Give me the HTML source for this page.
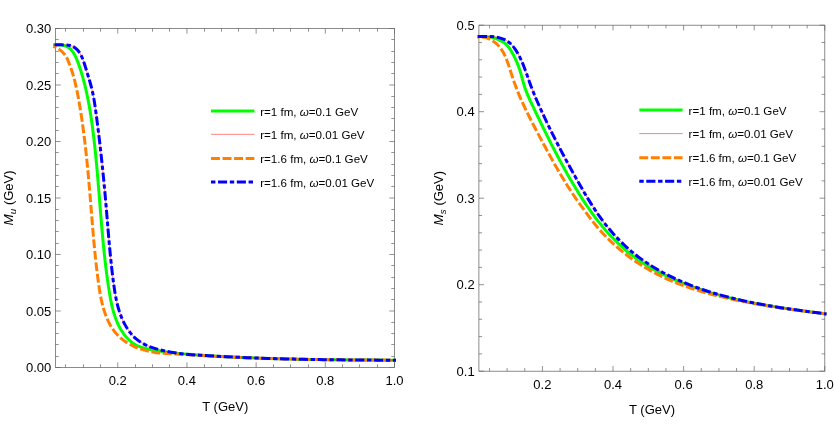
<!DOCTYPE html>
<html><head><meta charset="utf-8"><title>M vs T</title>
<style>html,body{margin:0;padding:0;background:#fff;overflow:hidden}svg{display:block;will-change:transform}</style>
</head><body>
<svg width="834" height="436" viewBox="0 0 834 436">
<style>
text{font-family:"Liberation Sans",sans-serif;fill:#000}
.t{font-size:13px}
.l{font-size:11.6px}
.i{font-style:italic}
.a{font-size:13px}
</style>
<rect width="834" height="436" fill="#fff"/>
<g>
<rect x="55.5" y="28.5" width="339.0" height="339.0" fill="none" stroke="#666" stroke-width="0.75"/>
<path d="M117.77,367.5v-5.2M117.77,28.5v5.2M186.95,367.5v-5.2M186.95,28.5v5.2M256.13,367.5v-5.2M256.13,28.5v5.2M325.32,367.5v-5.2M325.32,28.5v5.2M394.50,367.5v-5.2M394.50,28.5v5.2M55.5,367.50h5.2M394.5,367.50h-5.2M55.5,311.00h5.2M394.5,311.00h-5.2M55.5,254.50h5.2M394.5,254.50h-5.2M55.5,198.00h5.2M394.5,198.00h-5.2M55.5,141.50h5.2M394.5,141.50h-5.2M55.5,85.00h5.2M394.5,85.00h-5.2M55.5,28.50h5.2M394.5,28.50h-5.2" stroke="#666" stroke-width="0.7" fill="none"/>
<path d="M65.50,367.5v-3.2M65.50,28.5v3.2M83.50,367.5v-3.2M83.50,28.5v3.2M100.50,367.5v-3.2M100.50,28.5v3.2M135.50,367.5v-3.2M135.50,28.5v3.2M152.50,367.5v-3.2M152.50,28.5v3.2M169.50,367.5v-3.2M169.50,28.5v3.2M204.50,367.5v-3.2M204.50,28.5v3.2M221.50,367.5v-3.2M221.50,28.5v3.2M238.50,367.5v-3.2M238.50,28.5v3.2M273.50,367.5v-3.2M273.50,28.5v3.2M290.50,367.5v-3.2M290.50,28.5v3.2M308.50,367.5v-3.2M308.50,28.5v3.2M342.50,367.5v-3.2M342.50,28.5v3.2M359.50,367.5v-3.2M359.50,28.5v3.2M377.50,367.5v-3.2M377.50,28.5v3.2M55.5,356.50h3.2M394.5,356.50h-3.2M55.5,344.50h3.2M394.5,344.50h-3.2M55.5,333.50h3.2M394.5,333.50h-3.2M55.5,322.50h3.2M394.5,322.50h-3.2M55.5,299.50h3.2M394.5,299.50h-3.2M55.5,288.50h3.2M394.5,288.50h-3.2M55.5,277.50h3.2M394.5,277.50h-3.2M55.5,265.50h3.2M394.5,265.50h-3.2M55.5,243.50h3.2M394.5,243.50h-3.2M55.5,231.50h3.2M394.5,231.50h-3.2M55.5,220.50h3.2M394.5,220.50h-3.2M55.5,209.50h3.2M394.5,209.50h-3.2M55.5,186.50h3.2M394.5,186.50h-3.2M55.5,175.50h3.2M394.5,175.50h-3.2M55.5,164.50h3.2M394.5,164.50h-3.2M55.5,152.50h3.2M394.5,152.50h-3.2M55.5,130.50h3.2M394.5,130.50h-3.2M55.5,118.50h3.2M394.5,118.50h-3.2M55.5,107.50h3.2M394.5,107.50h-3.2M55.5,96.50h3.2M394.5,96.50h-3.2M55.5,73.50h3.2M394.5,73.50h-3.2M55.5,62.50h3.2M394.5,62.50h-3.2M55.5,51.50h3.2M394.5,51.50h-3.2M55.5,39.50h3.2M394.5,39.50h-3.2" stroke="#666" stroke-width="0.7" fill="none"/>
<text x="117.8" y="385.1" text-anchor="middle" class="t">0.2</text>
<text x="186.9" y="385.1" text-anchor="middle" class="t">0.4</text>
<text x="256.1" y="385.1" text-anchor="middle" class="t">0.6</text>
<text x="325.3" y="385.1" text-anchor="middle" class="t">0.8</text>
<text x="394.5" y="385.1" text-anchor="middle" class="t">1.0</text>
<text x="51.3" y="372.1" text-anchor="end" class="t">0.00</text>
<text x="51.3" y="315.6" text-anchor="end" class="t">0.05</text>
<text x="51.3" y="259.1" text-anchor="end" class="t">0.10</text>
<text x="51.3" y="202.6" text-anchor="end" class="t">0.15</text>
<text x="51.3" y="146.1" text-anchor="end" class="t">0.20</text>
<text x="51.3" y="89.6" text-anchor="end" class="t">0.25</text>
<text x="51.3" y="33.1" text-anchor="end" class="t">0.30</text>
<path d="M53.20,44.80C56.16,44.80 59.02,44.92 61.76,45.10C64.46,45.29 67.48,46.88 69.55,48.33C71.62,49.78 73.36,52.62 74.73,55.01C76.12,57.46 77.15,60.26 78.18,62.95C79.20,65.59 80.08,68.31 80.93,71.01C81.77,73.72 82.56,76.44 83.30,79.17C84.05,81.91 84.75,84.66 85.41,87.42C86.06,90.18 86.68,92.96 87.26,95.74C87.84,98.52 88.39,101.31 88.90,104.11C89.41,106.91 89.89,109.72 90.34,112.53C90.80,115.35 91.22,118.17 91.63,120.99C92.03,123.81 92.41,126.64 92.77,129.47C93.14,132.30 93.48,135.13 93.82,137.96C94.15,140.78 94.47,143.61 94.77,146.45C95.08,149.27 95.37,152.10 95.65,154.94C95.94,157.77 96.21,160.60 96.47,163.43C96.74,166.26 96.99,169.09 97.24,171.92C97.49,174.75 97.73,177.58 97.97,180.41C98.21,183.24 98.44,186.06 98.67,188.89C98.90,191.72 99.13,194.55 99.35,197.38C99.58,200.21 99.80,203.03 100.03,205.86C100.25,208.69 100.48,211.51 100.71,214.34C100.94,217.16 101.17,219.99 101.41,222.81C101.64,225.64 101.88,228.46 102.13,231.28C102.38,234.11 102.64,236.93 102.90,239.75C103.17,242.58 103.44,245.40 103.72,248.22C104.01,251.05 104.30,253.87 104.61,256.69C104.92,259.52 105.24,262.34 105.58,265.17C105.92,267.99 106.27,270.82 106.64,273.64C107.01,276.47 107.40,279.30 107.80,282.13C108.21,284.96 108.63,287.79 109.08,290.62C109.54,293.45 110.00,296.28 110.53,299.10C111.07,301.90 111.65,304.71 112.32,307.48C113.00,310.22 113.77,312.97 114.66,315.65C115.54,318.31 116.57,320.96 117.73,323.51C118.89,326.06 120.25,328.59 121.74,330.95C123.25,333.35 124.98,335.75 126.88,337.82C128.76,339.87 130.92,341.96 133.23,343.44C135.52,344.91 138.18,346.20 140.79,347.07C143.46,347.96 146.32,348.57 149.11,349.16C151.91,349.75 154.74,350.24 157.57,350.71C160.39,351.17 163.21,351.60 166.04,351.98C168.86,352.36 171.69,352.70 174.51,353.02C177.34,353.33 180.17,353.61 182.99,353.87C185.82,354.12 188.65,354.36 191.48,354.57C194.31,354.79 197.14,354.99 199.97,355.18C202.80,355.38 205.63,355.56 208.47,355.73C211.30,355.91 214.13,356.08 216.97,356.24C219.80,356.40 222.64,356.55 225.48,356.70C228.31,356.85 231.15,356.99 233.99,357.12C236.83,357.26 239.67,357.38 242.50,357.51C245.34,357.63 248.18,357.74 251.02,357.85C253.87,357.96 256.71,358.07 259.55,358.17C262.39,358.27 265.23,358.36 268.07,358.45C270.92,358.54 273.76,358.62 276.60,358.70C279.44,358.78 282.29,358.85 285.13,358.92C287.98,358.99 290.82,359.06 293.66,359.12C296.51,359.18 299.35,359.24 302.20,359.29C305.04,359.34 307.89,359.39 310.73,359.44C313.57,359.49 316.42,359.53 319.26,359.57C322.11,359.61 324.95,359.65 327.80,359.68C330.64,359.72 333.48,359.75 336.33,359.78C339.17,359.81 342.02,359.84 344.86,359.86C347.70,359.89 350.55,359.91 353.39,359.94C356.23,359.96 359.08,359.98 361.92,360.00C364.76,360.02 367.60,360.04 370.44,360.06C373.28,360.07 376.12,360.09 378.97,360.11C381.81,360.12 384.65,360.14 387.48,360.15C390.32,360.17 393.16,360.18 396.00,360.20" stroke="#00ff00" stroke-width="3.0" fill="none"/>
<path d="M53.20,44.80C56.03,44.80 58.85,44.82 61.66,44.86C64.54,44.89 67.62,45.17 70.28,45.59C72.82,45.99 75.57,48.08 77.38,49.84C79.25,51.68 80.72,54.59 81.91,57.15C83.10,59.70 83.96,62.50 84.86,65.22C85.74,67.90 86.48,70.64 87.31,73.35C88.14,76.06 89.04,78.75 89.82,81.47C90.60,84.19 91.38,86.92 92.02,89.67C92.66,92.43 93.22,95.21 93.73,98.00C94.23,100.79 94.67,103.60 95.09,106.41C95.51,109.22 95.88,112.04 96.26,114.85C96.63,117.67 97.00,120.49 97.36,123.31C97.72,126.13 98.07,128.95 98.42,131.76C98.76,134.58 99.10,137.40 99.44,140.22C99.77,143.04 100.10,145.86 100.42,148.68C100.74,151.50 101.05,154.32 101.36,157.14C101.67,159.96 101.97,162.78 102.26,165.60C102.56,168.42 102.85,171.24 103.13,174.06C103.41,176.88 103.69,179.70 103.96,182.53C104.23,185.35 104.50,188.17 104.76,190.99C105.02,193.82 105.27,196.64 105.52,199.47C105.77,202.29 106.01,205.11 106.25,207.94C106.49,210.77 106.73,213.59 106.96,216.42C107.20,219.24 107.43,222.07 107.66,224.90C107.90,227.72 108.13,230.55 108.37,233.38C108.62,236.20 108.86,239.03 109.11,241.86C109.36,244.68 109.62,247.51 109.89,250.34C110.15,253.16 110.43,255.99 110.72,258.81C111.01,261.63 111.31,264.46 111.62,267.28C111.94,270.10 112.27,272.93 112.62,275.75C112.96,278.57 113.32,281.39 113.71,284.20C114.10,287.02 114.50,289.84 114.97,292.64C115.44,295.43 115.95,298.22 116.56,300.99C117.16,303.74 117.85,306.49 118.65,309.18C119.45,311.88 120.38,314.56 121.43,317.16C122.49,319.78 123.73,322.38 125.09,324.85C126.47,327.36 128.05,329.84 129.78,332.10C131.50,334.34 133.46,336.56 135.57,338.41C137.65,340.23 140.03,341.92 142.45,343.27C144.88,344.64 147.53,345.80 150.16,346.80C152.79,347.80 155.52,348.66 158.25,349.41C160.97,350.15 163.73,350.82 166.50,351.37C169.27,351.93 172.06,352.42 174.85,352.83C177.66,353.23 180.48,353.58 183.29,353.88C186.12,354.17 188.95,354.42 191.79,354.64C194.63,354.86 197.47,355.05 200.31,355.23C203.15,355.42 205.99,355.59 208.83,355.75C211.67,355.92 214.51,356.08 217.35,356.24C220.19,356.39 223.02,356.54 225.86,356.69C228.70,356.83 231.54,356.97 234.37,357.10C237.21,357.23 240.04,357.36 242.88,357.48C245.71,357.60 248.55,357.71 251.38,357.82C254.22,357.93 257.05,358.03 259.88,358.13C262.72,358.23 265.55,358.33 268.38,358.42C271.22,358.51 274.05,358.59 276.88,358.67C279.71,358.76 282.55,358.83 285.38,358.90C288.21,358.98 291.04,359.04 293.88,359.11C296.71,359.17 299.54,359.23 302.37,359.29C305.21,359.35 308.04,359.40 310.87,359.45C313.71,359.50 316.54,359.55 319.37,359.59C322.20,359.63 325.04,359.67 327.87,359.71C330.71,359.75 333.54,359.78 336.38,359.82C339.21,359.85 342.05,359.88 344.88,359.90C347.72,359.93 350.55,359.96 353.39,359.98C356.23,360.00 359.07,360.02 361.90,360.04C364.74,360.06 367.58,360.08 370.42,360.09C373.26,360.11 376.10,360.12 378.94,360.14C381.78,360.15 384.63,360.16 387.47,360.17C390.31,360.18 393.16,360.19 396.00,360.20" stroke="#ff0000" stroke-width="0.5" fill="none"/>
<path d="M53.20,46.30C55.98,47.25 58.49,48.68 60.61,50.32C62.73,51.96 64.77,54.34 66.17,56.67C67.59,59.01 68.56,61.82 69.58,64.46C70.61,67.09 71.53,69.77 72.37,72.47C73.21,75.16 73.98,77.88 74.67,80.61C75.37,83.35 76.01,86.11 76.60,88.87C77.19,91.64 77.72,94.42 78.24,97.20C78.75,99.98 79.23,102.77 79.70,105.56C80.17,108.36 80.62,111.15 81.05,113.95C81.48,116.74 81.89,119.54 82.29,122.34C82.69,125.14 83.07,127.94 83.44,130.75C83.81,133.55 84.16,136.36 84.51,139.17C84.85,141.98 85.18,144.79 85.49,147.60C85.81,150.41 86.12,153.22 86.41,156.03C86.71,158.85 87.00,161.66 87.27,164.48C87.55,167.30 87.82,170.11 88.08,172.93C88.34,175.75 88.60,178.57 88.85,181.39C89.10,184.21 89.34,187.03 89.58,189.85C89.82,192.67 90.06,195.50 90.29,198.32C90.52,201.14 90.75,203.96 90.98,206.79C91.21,209.61 91.44,212.43 91.67,215.26C91.90,218.08 92.12,220.90 92.36,223.73C92.59,226.55 92.83,229.37 93.07,232.19C93.31,235.01 93.55,237.83 93.81,240.65C94.06,243.47 94.32,246.29 94.60,249.11C94.87,251.93 95.15,254.74 95.44,257.56C95.74,260.37 96.04,263.18 96.36,266.00C96.68,268.80 97.01,271.61 97.36,274.42C97.71,277.23 98.08,280.03 98.47,282.83C98.86,285.63 99.25,288.43 99.71,291.22C100.17,294.00 100.67,296.79 101.25,299.55C101.83,302.31 102.51,305.06 103.28,307.78C104.05,310.50 104.95,313.22 105.97,315.86C106.99,318.52 108.18,321.17 109.51,323.68C110.83,326.17 112.36,328.64 114.05,330.87C115.71,333.08 117.66,335.21 119.69,337.07C121.73,338.94 124.02,340.68 126.35,342.19C128.70,343.71 131.23,345.10 133.78,346.27C136.36,347.45 139.06,348.52 141.77,349.38C144.49,350.23 147.29,351.01 150.09,351.57C152.86,352.11 155.69,352.59 158.51,352.89C161.30,353.19 164.11,353.39 166.91,353.56C169.72,353.73 172.53,353.82 175.33,353.97C178.15,354.11 180.97,354.26 183.78,354.42C186.61,354.58 189.44,354.77 192.26,354.94C195.09,355.12 197.92,355.31 200.75,355.48C203.59,355.65 206.42,355.82 209.25,355.98C212.08,356.14 214.91,356.30 217.74,356.45C220.57,356.60 223.40,356.74 226.23,356.87C229.06,357.01 231.89,357.14 234.72,357.26C237.55,357.38 240.38,357.50 243.21,357.61C246.03,357.73 248.86,357.83 251.69,357.93C254.52,358.04 257.35,358.13 260.18,358.22C263.01,358.31 265.83,358.40 268.66,358.48C271.49,358.56 274.32,358.64 277.15,358.72C279.97,358.79 282.80,358.86 285.63,358.92C288.46,358.99 291.29,359.05 294.12,359.11C296.94,359.16 299.77,359.22 302.60,359.27C305.43,359.32 308.26,359.37 311.08,359.41C313.91,359.46 316.74,359.50 319.57,359.54C322.40,359.58 325.23,359.61 328.06,359.65C330.88,359.68 333.71,359.72 336.54,359.75C339.37,359.78 342.20,359.80 345.03,359.83C347.86,359.86 350.69,359.88 353.52,359.90C356.35,359.93 359.18,359.95 362.01,359.97C364.84,359.99 367.68,360.01 370.51,360.03C373.34,360.05 376.17,360.07 379.00,360.09C381.83,360.11 384.67,360.13 387.50,360.14C390.33,360.16 393.17,360.18 396.00,360.20" stroke="#ff8000" stroke-width="3.0" fill="none" stroke-dasharray="8.9 2.65" stroke-dashoffset="5.6"/>
<path d="M53.20,44.80C56.03,44.80 58.85,44.82 61.66,44.86C64.54,44.89 67.62,45.17 70.28,45.59C72.82,45.99 75.57,48.08 77.38,49.84C79.25,51.68 80.72,54.59 81.91,57.15C83.10,59.70 83.96,62.50 84.86,65.22C85.74,67.90 86.48,70.64 87.31,73.35C88.14,76.06 89.04,78.75 89.82,81.47C90.60,84.19 91.38,86.92 92.02,89.67C92.66,92.43 93.22,95.21 93.73,98.00C94.23,100.79 94.67,103.60 95.09,106.41C95.51,109.22 95.88,112.04 96.26,114.85C96.63,117.67 97.00,120.49 97.36,123.31C97.72,126.13 98.07,128.95 98.42,131.76C98.76,134.58 99.10,137.40 99.44,140.22C99.77,143.04 100.10,145.86 100.42,148.68C100.74,151.50 101.05,154.32 101.36,157.14C101.67,159.96 101.97,162.78 102.26,165.60C102.56,168.42 102.85,171.24 103.13,174.06C103.41,176.88 103.69,179.70 103.96,182.53C104.23,185.35 104.50,188.17 104.76,190.99C105.02,193.82 105.27,196.64 105.52,199.47C105.77,202.29 106.01,205.11 106.25,207.94C106.49,210.77 106.73,213.59 106.96,216.42C107.20,219.24 107.43,222.07 107.66,224.90C107.90,227.72 108.13,230.55 108.37,233.38C108.62,236.20 108.86,239.03 109.11,241.86C109.36,244.68 109.62,247.51 109.89,250.34C110.15,253.16 110.43,255.99 110.72,258.81C111.01,261.63 111.31,264.46 111.62,267.28C111.94,270.10 112.27,272.93 112.62,275.75C112.96,278.57 113.32,281.39 113.71,284.20C114.10,287.02 114.50,289.84 114.97,292.64C115.44,295.43 115.95,298.22 116.56,300.99C117.16,303.74 117.85,306.49 118.65,309.18C119.45,311.88 120.38,314.56 121.43,317.16C122.49,319.78 123.73,322.38 125.09,324.85C126.47,327.36 128.05,329.84 129.78,332.10C131.50,334.34 133.46,336.56 135.57,338.41C137.65,340.23 140.03,341.92 142.45,343.27C144.88,344.64 147.53,345.80 150.16,346.80C152.79,347.80 155.52,348.66 158.25,349.41C160.97,350.15 163.73,350.82 166.50,351.37C169.27,351.93 172.06,352.42 174.85,352.83C177.66,353.23 180.48,353.58 183.29,353.88C186.12,354.17 188.95,354.42 191.79,354.64C194.63,354.86 197.47,355.05 200.31,355.23C203.15,355.42 205.99,355.59 208.83,355.75C211.67,355.92 214.51,356.08 217.35,356.24C220.19,356.39 223.02,356.54 225.86,356.69C228.70,356.83 231.54,356.97 234.37,357.10C237.21,357.23 240.04,357.36 242.88,357.48C245.71,357.60 248.55,357.71 251.38,357.82C254.22,357.93 257.05,358.03 259.88,358.13C262.72,358.23 265.55,358.33 268.38,358.42C271.22,358.51 274.05,358.59 276.88,358.67C279.71,358.76 282.55,358.83 285.38,358.90C288.21,358.98 291.04,359.04 293.88,359.11C296.71,359.17 299.54,359.23 302.37,359.29C305.21,359.35 308.04,359.40 310.87,359.45C313.71,359.50 316.54,359.55 319.37,359.59C322.20,359.63 325.04,359.67 327.87,359.71C330.71,359.75 333.54,359.78 336.38,359.82C339.21,359.85 342.05,359.88 344.88,359.90C347.72,359.93 350.55,359.96 353.39,359.98C356.23,360.00 359.07,360.02 361.90,360.04C364.74,360.06 367.58,360.08 370.42,360.09C373.26,360.11 376.10,360.12 378.94,360.14C381.78,360.15 384.63,360.16 387.47,360.17C390.31,360.18 393.16,360.19 396.00,360.20" stroke="#0000ff" stroke-width="3.0" fill="none" stroke-dasharray="4.4 2.6 9.1 2.7" stroke-dashoffset="5.6"/>
<text x="225.3" y="410.8" text-anchor="middle" class="a">T (GeV)</text>
<text transform="translate(13.0,198) rotate(-90)" text-anchor="middle" class="a"><tspan class="i" font-size="13.6px">M</tspan><tspan class="i" font-size="9.9px" dy="2.6">u</tspan><tspan dy="-2.6"> (GeV)</tspan></text>
<path d="M211,111.0H254.4" stroke="#00ff00" stroke-width="3.0"/>
<path d="M211,134.3H254.4" stroke="#ff0000" stroke-width="0.5"/>
<path d="M211,158.6H254.4" stroke="#ff8000" stroke-width="3.0" stroke-dasharray="8.9 2.65"/>
<path d="M211,182.1H254.4" stroke="#0000ff" stroke-width="3.0" stroke-dasharray="4.4 2.6 9.1 2.7"/>
<text x="260.2" y="115.6" class="l">r=1 fm, <tspan class="i">ω</tspan>=0.1 GeV</text>
<text x="260.2" y="138.9" class="l">r=1 fm, <tspan class="i">ω</tspan>=0.01 GeV</text>
<text x="260.2" y="163.2" class="l">r=1.6 fm, <tspan class="i">ω</tspan>=0.1 GeV</text>
<text x="260.2" y="186.7" class="l">r=1.6 fm, <tspan class="i">ω</tspan>=0.01 GeV</text>
</g>
<g>
<rect x="478.9" y="25.2" width="345.9" height="346.0" fill="none" stroke="#666" stroke-width="0.75"/>
<path d="M542.43,371.2v-5.2M542.43,25.2v5.2M613.02,371.2v-5.2M613.02,25.2v5.2M683.62,371.2v-5.2M683.62,25.2v5.2M754.21,371.2v-5.2M754.21,25.2v5.2M824.80,371.2v-5.2M824.80,25.2v5.2M478.9,371.20h5.2M824.8,371.20h-5.2M478.9,284.70h5.2M824.8,284.70h-5.2M478.9,198.20h5.2M824.8,198.20h-5.2M478.9,111.70h5.2M824.8,111.70h-5.2M478.9,25.20h5.2M824.8,25.20h-5.2" stroke="#666" stroke-width="0.7" fill="none"/>
<path d="M489.49,371.2v-3.2M489.49,25.2v3.2M507.14,371.2v-3.2M507.14,25.2v3.2M524.78,371.2v-3.2M524.78,25.2v3.2M560.08,371.2v-3.2M560.08,25.2v3.2M577.73,371.2v-3.2M577.73,25.2v3.2M595.38,371.2v-3.2M595.38,25.2v3.2M630.67,371.2v-3.2M630.67,25.2v3.2M648.32,371.2v-3.2M648.32,25.2v3.2M665.97,371.2v-3.2M665.97,25.2v3.2M701.26,371.2v-3.2M701.26,25.2v3.2M718.91,371.2v-3.2M718.91,25.2v3.2M736.56,371.2v-3.2M736.56,25.2v3.2M771.86,371.2v-3.2M771.86,25.2v3.2M789.50,371.2v-3.2M789.50,25.2v3.2M807.15,371.2v-3.2M807.15,25.2v3.2M478.9,353.90h3.2M824.8,353.90h-3.2M478.9,336.60h3.2M824.8,336.60h-3.2M478.9,319.30h3.2M824.8,319.30h-3.2M478.9,302.00h3.2M824.8,302.00h-3.2M478.9,267.40h3.2M824.8,267.40h-3.2M478.9,250.10h3.2M824.8,250.10h-3.2M478.9,232.80h3.2M824.8,232.80h-3.2M478.9,215.50h3.2M824.8,215.50h-3.2M478.9,180.90h3.2M824.8,180.90h-3.2M478.9,163.60h3.2M824.8,163.60h-3.2M478.9,146.30h3.2M824.8,146.30h-3.2M478.9,129.00h3.2M824.8,129.00h-3.2M478.9,94.40h3.2M824.8,94.40h-3.2M478.9,77.10h3.2M824.8,77.10h-3.2M478.9,59.80h3.2M824.8,59.80h-3.2M478.9,42.50h3.2M824.8,42.50h-3.2" stroke="#666" stroke-width="0.7" fill="none"/>
<text x="542.4" y="388.8" text-anchor="middle" class="t">0.2</text>
<text x="613.0" y="388.8" text-anchor="middle" class="t">0.4</text>
<text x="683.6" y="388.8" text-anchor="middle" class="t">0.6</text>
<text x="754.2" y="388.8" text-anchor="middle" class="t">0.8</text>
<text x="824.8" y="388.8" text-anchor="middle" class="t">1.0</text>
<text x="474.7" y="375.8" text-anchor="end" class="t">0.1</text>
<text x="474.7" y="289.3" text-anchor="end" class="t">0.2</text>
<text x="474.7" y="202.8" text-anchor="end" class="t">0.3</text>
<text x="474.7" y="116.3" text-anchor="end" class="t">0.4</text>
<text x="474.7" y="29.8" text-anchor="end" class="t">0.5</text>
<path d="M477.00,36.50C479.35,36.50 481.69,36.52 484.02,36.55C486.36,36.58 488.72,36.97 491.02,37.35C493.31,37.72 495.63,38.44 497.79,39.24C499.96,40.05 502.18,41.22 504.02,42.55C505.84,43.86 507.52,45.70 508.92,47.50C510.35,49.33 511.51,51.47 512.65,53.53C513.79,55.58 514.84,57.69 515.81,59.83C516.77,61.95 517.68,64.11 518.49,66.30C519.29,68.48 520.03,70.70 520.70,72.94C521.37,75.18 521.90,77.47 522.53,79.72C523.16,81.98 523.77,84.26 524.49,86.49C525.22,88.71 526.06,90.91 526.93,93.09C527.80,95.28 528.76,97.43 529.72,99.57C530.69,101.72 531.71,103.85 532.71,105.97C533.72,108.10 534.74,110.22 535.75,112.34C536.77,114.45 537.78,116.57 538.80,118.68C539.82,120.79 540.84,122.89 541.86,124.99C542.88,127.09 543.91,129.19 544.94,131.29C545.97,133.38 547.01,135.47 548.05,137.55C549.09,139.64 550.14,141.72 551.19,143.80C552.25,145.87 553.31,147.95 554.38,150.02C555.45,152.09 556.52,154.15 557.61,156.21C558.70,158.28 559.80,160.33 560.91,162.39C562.02,164.44 563.13,166.49 564.26,168.53C565.40,170.58 566.54,172.63 567.70,174.66C568.85,176.70 570.02,178.74 571.21,180.76C572.39,182.80 573.59,184.82 574.81,186.84C576.02,188.86 577.25,190.88 578.50,192.88C579.75,194.88 581.02,196.88 582.30,198.86C583.59,200.85 584.89,202.82 586.21,204.78C587.54,206.73 588.88,208.68 590.25,210.61C591.61,212.53 593.00,214.44 594.41,216.33C595.82,218.21 597.25,220.08 598.71,221.93C600.16,223.77 601.64,225.59 603.15,227.39C604.66,229.18 606.19,230.95 607.75,232.69C609.31,234.43 610.90,236.14 612.51,237.82C614.13,239.50 615.77,241.15 617.45,242.77C619.12,244.38 620.82,245.96 622.56,247.50C624.29,249.04 626.06,250.55 627.86,252.01C629.66,253.48 631.49,254.91 633.35,256.30C635.21,257.69 637.10,259.04 639.01,260.35C640.93,261.67 642.87,262.95 644.84,264.20C646.81,265.44 648.80,266.65 650.82,267.83C652.83,269.00 654.88,270.15 656.93,271.26C658.99,272.37 661.08,273.45 663.17,274.49C665.28,275.54 667.40,276.56 669.53,277.54C671.66,278.53 673.82,279.49 675.98,280.41C678.15,281.34 680.33,282.24 682.52,283.11C684.71,283.98 686.92,284.83 689.13,285.65C691.35,286.46 693.57,287.26 695.81,288.02C698.04,288.79 700.28,289.53 702.53,290.25C704.78,290.97 707.03,291.67 709.29,292.34C711.54,293.01 713.80,293.67 716.07,294.30C718.33,294.93 720.59,295.54 722.86,296.13C725.13,296.71 727.40,297.29 729.67,297.84C731.94,298.39 734.22,298.92 736.49,299.44C738.77,299.96 741.05,300.45 743.33,300.94C745.61,301.42 747.89,301.89 750.18,302.35C752.46,302.80 754.75,303.24 757.04,303.67C759.33,304.10 761.62,304.51 763.92,304.91C766.21,305.32 768.51,305.71 770.81,306.09C773.11,306.47 775.41,306.84 777.71,307.20C780.02,307.57 782.33,307.92 784.64,308.27C786.95,308.61 789.26,308.95 791.57,309.29C793.89,309.62 796.21,309.95 798.53,310.27C800.85,310.59 803.17,310.91 805.50,311.22C807.82,311.54 810.15,311.85 812.48,312.16C814.81,312.47 817.15,312.77 819.48,313.08C821.82,313.39 824.16,313.69 826.50,314.00" stroke="#00ff00" stroke-width="3.0" fill="none"/>
<path d="M477.00,36.50C479.31,36.46 481.62,36.45 483.93,36.45C486.32,36.45 488.71,36.50 491.09,36.58C493.44,36.65 495.84,37.04 498.13,37.47C500.38,37.89 502.68,38.76 504.73,39.71C506.79,40.67 508.81,42.15 510.51,43.66C512.22,45.18 513.75,47.12 515.10,49.01C516.46,50.91 517.63,53.01 518.75,55.09C519.85,57.15 520.86,59.28 521.81,61.42C522.76,63.56 523.62,65.74 524.46,67.92C525.31,70.11 526.09,72.32 526.88,74.52C527.67,76.73 528.42,78.95 529.21,81.15C530.00,83.36 530.79,85.57 531.62,87.76C532.46,89.94 533.32,92.12 534.21,94.29C535.10,96.46 536.01,98.62 536.94,100.77C537.87,102.92 538.83,105.06 539.79,107.20C540.75,109.34 541.72,111.47 542.71,113.60C543.69,115.73 544.69,117.85 545.70,119.97C546.70,122.09 547.72,124.21 548.74,126.32C549.77,128.43 550.81,130.53 551.85,132.63C552.89,134.74 553.95,136.83 555.01,138.92C556.07,141.02 557.14,143.11 558.22,145.19C559.30,147.27 560.39,149.35 561.48,151.43C562.58,153.50 563.68,155.57 564.79,157.64C565.89,159.71 567.01,161.77 568.13,163.83C569.25,165.89 570.38,167.94 571.51,169.99C572.65,172.04 573.79,174.09 574.93,176.13C576.07,178.18 577.22,180.22 578.38,182.25C579.53,184.28 580.69,186.32 581.86,188.34C583.03,190.36 584.20,192.38 585.40,194.39C586.59,196.40 587.79,198.40 589.02,200.39C590.24,202.38 591.48,204.36 592.74,206.32C594.01,208.28 595.29,210.24 596.61,212.17C597.92,214.10 599.26,216.02 600.63,217.92C602.00,219.82 603.40,221.70 604.84,223.56C606.28,225.42 607.75,227.26 609.26,229.07C610.77,230.88 612.32,232.67 613.89,234.43C615.47,236.18 617.09,237.91 618.74,239.61C620.38,241.30 622.06,242.96 623.78,244.58C625.48,246.20 627.23,247.78 629.00,249.33C630.77,250.86 632.57,252.36 634.40,253.82C636.23,255.28 638.09,256.71 639.97,258.09C641.85,259.47 643.77,260.82 645.70,262.13C647.63,263.43 649.59,264.71 651.57,265.94C653.55,267.18 655.55,268.38 657.57,269.55C659.59,270.72 661.64,271.85 663.70,272.95C665.76,274.05 667.84,275.12 669.94,276.16C672.04,277.19 674.16,278.20 676.28,279.18C678.42,280.15 680.56,281.10 682.72,282.01C684.88,282.93 687.06,283.82 689.24,284.68C691.42,285.54 693.62,286.37 695.83,287.17C698.04,287.98 700.26,288.76 702.48,289.52C704.71,290.27 706.94,291.00 709.18,291.71C711.42,292.41 713.67,293.10 715.92,293.76C718.17,294.42 720.43,295.06 722.70,295.67C724.96,296.29 727.23,296.89 729.50,297.46C731.77,298.04 734.05,298.60 736.33,299.14C738.61,299.67 740.89,300.20 743.18,300.70C745.47,301.20 747.76,301.69 750.06,302.16C752.35,302.63 754.65,303.09 756.95,303.53C759.25,303.98 761.56,304.40 763.87,304.82C766.17,305.24 768.48,305.64 770.79,306.03C773.11,306.42 775.42,306.80 777.73,307.18C780.05,307.55 782.37,307.91 784.69,308.26C787.01,308.61 789.33,308.96 791.65,309.29C793.97,309.63 796.29,309.96 798.61,310.29C800.94,310.61 803.26,310.93 805.59,311.25C807.91,311.56 810.23,311.87 812.56,312.18C814.88,312.49 817.21,312.79 819.53,313.09C821.85,313.40 824.18,313.70 826.50,314.00" stroke="#ff0000" stroke-width="0.5" fill="none"/>
<path d="M477.00,37.00C479.42,37.00 481.78,37.14 484.07,37.35C486.33,37.54 488.62,38.71 490.67,39.70C492.71,40.69 494.69,42.19 496.40,43.70C498.10,45.21 499.68,47.06 501.02,48.93C502.35,50.79 503.53,52.86 504.56,54.93C505.59,57.02 506.47,59.23 507.30,61.42C508.14,63.62 508.85,65.87 509.59,68.11C510.32,70.32 510.99,72.55 511.72,74.77C512.43,76.97 513.15,79.18 513.91,81.37C514.67,83.55 515.48,85.73 516.31,87.90C517.14,90.07 518.01,92.22 518.90,94.37C519.79,96.52 520.71,98.65 521.66,100.78C522.60,102.91 523.58,105.03 524.57,107.14C525.56,109.26 526.58,111.36 527.60,113.46C528.63,115.56 529.68,117.65 530.74,119.74C531.80,121.83 532.88,123.91 533.96,125.98C535.04,128.06 536.13,130.13 537.23,132.20C538.33,134.27 539.43,136.33 540.54,138.40C541.64,140.46 542.75,142.52 543.86,144.58C544.96,146.63 546.07,148.69 547.19,150.74C548.30,152.79 549.42,154.83 550.55,156.87C551.67,158.91 552.81,160.95 553.95,162.98C555.09,165.01 556.24,167.03 557.41,169.05C558.57,171.06 559.74,173.07 560.93,175.07C562.12,177.07 563.32,179.07 564.54,181.05C565.75,183.03 566.99,185.01 568.24,186.97C569.49,188.94 570.76,190.90 572.05,192.84C573.34,194.79 574.65,196.72 575.98,198.64C577.31,200.56 578.66,202.48 580.02,204.38C581.38,206.28 582.76,208.17 584.15,210.06C585.53,211.94 586.93,213.82 588.34,215.69C589.75,217.55 591.15,219.42 592.59,221.25C594.03,223.09 595.49,224.91 596.99,226.69C598.49,228.47 600.02,230.22 601.59,231.94C603.15,233.66 604.75,235.36 606.38,237.01C608.01,238.67 609.67,240.30 611.36,241.90C613.05,243.50 614.78,245.07 616.53,246.60C618.28,248.14 620.06,249.65 621.86,251.12C623.67,252.60 625.50,254.04 627.36,255.45C629.22,256.87 631.10,258.25 633.01,259.59C634.92,260.94 636.85,262.26 638.81,263.54C640.76,264.82 642.74,266.07 644.73,267.28C646.73,268.50 648.75,269.68 650.79,270.83C652.82,271.97 654.88,273.08 656.96,274.16C659.03,275.23 661.12,276.27 663.23,277.28C665.34,278.28 667.46,279.25 669.60,280.18C671.74,281.11 673.89,282.01 676.06,282.87C678.22,283.73 680.40,284.57 682.59,285.37C684.78,286.17 686.98,286.94 689.19,287.69C691.40,288.43 693.63,289.15 695.85,289.84C698.08,290.53 700.32,291.20 702.56,291.85C704.81,292.50 707.06,293.12 709.31,293.73C711.57,294.33 713.83,294.92 716.09,295.49C718.35,296.05 720.62,296.61 722.89,297.14C725.16,297.68 727.44,298.20 729.72,298.71C731.99,299.21 734.27,299.70 736.56,300.18C738.84,300.65 741.13,301.12 743.42,301.57C745.71,302.02 748.00,302.45 750.29,302.88C752.59,303.30 754.89,303.72 757.18,304.12C759.48,304.52 761.78,304.91 764.09,305.30C766.39,305.68 768.69,306.05 771.00,306.41C773.31,306.78 775.61,307.13 777.92,307.48C780.23,307.83 782.54,308.17 784.85,308.50C787.16,308.83 789.48,309.16 791.79,309.48C794.10,309.80 796.42,310.11 798.73,310.43C801.04,310.74 803.36,311.04 805.67,311.34C807.99,311.65 810.30,311.95 812.62,312.24C814.93,312.54 817.24,312.83 819.56,313.13C821.87,313.42 824.19,313.71 826.50,314.00" stroke="#ff8000" stroke-width="3.0" fill="none" stroke-dasharray="8.9 2.65" stroke-dashoffset="6.8"/>
<path d="M477.00,36.50C479.31,36.46 481.62,36.45 483.93,36.45C486.32,36.45 488.71,36.50 491.09,36.58C493.44,36.65 495.84,37.04 498.13,37.47C500.38,37.89 502.68,38.76 504.73,39.71C506.79,40.67 508.81,42.15 510.51,43.66C512.22,45.18 513.75,47.12 515.10,49.01C516.46,50.91 517.63,53.01 518.75,55.09C519.85,57.15 520.86,59.28 521.81,61.42C522.76,63.56 523.62,65.74 524.46,67.92C525.31,70.11 526.09,72.32 526.88,74.52C527.67,76.73 528.42,78.95 529.21,81.15C530.00,83.36 530.79,85.57 531.62,87.76C532.46,89.94 533.32,92.12 534.21,94.29C535.10,96.46 536.01,98.62 536.94,100.77C537.87,102.92 538.83,105.06 539.79,107.20C540.75,109.34 541.72,111.47 542.71,113.60C543.69,115.73 544.69,117.85 545.70,119.97C546.70,122.09 547.72,124.21 548.74,126.32C549.77,128.43 550.81,130.53 551.85,132.63C552.89,134.74 553.95,136.83 555.01,138.92C556.07,141.02 557.14,143.11 558.22,145.19C559.30,147.27 560.39,149.35 561.48,151.43C562.58,153.50 563.68,155.57 564.79,157.64C565.89,159.71 567.01,161.77 568.13,163.83C569.25,165.89 570.38,167.94 571.51,169.99C572.65,172.04 573.79,174.09 574.93,176.13C576.07,178.18 577.22,180.22 578.38,182.25C579.53,184.28 580.69,186.32 581.86,188.34C583.03,190.36 584.20,192.38 585.40,194.39C586.59,196.40 587.79,198.40 589.02,200.39C590.24,202.38 591.48,204.36 592.74,206.32C594.01,208.28 595.29,210.24 596.61,212.17C597.92,214.10 599.26,216.02 600.63,217.92C602.00,219.82 603.40,221.70 604.84,223.56C606.28,225.42 607.75,227.26 609.26,229.07C610.77,230.88 612.32,232.67 613.89,234.43C615.47,236.18 617.09,237.91 618.74,239.61C620.38,241.30 622.06,242.96 623.78,244.58C625.48,246.20 627.23,247.78 629.00,249.33C630.77,250.86 632.57,252.36 634.40,253.82C636.23,255.28 638.09,256.71 639.97,258.09C641.85,259.47 643.77,260.82 645.70,262.13C647.63,263.43 649.59,264.71 651.57,265.94C653.55,267.18 655.55,268.38 657.57,269.55C659.59,270.72 661.64,271.85 663.70,272.95C665.76,274.05 667.84,275.12 669.94,276.16C672.04,277.19 674.16,278.20 676.28,279.18C678.42,280.15 680.56,281.10 682.72,282.01C684.88,282.93 687.06,283.82 689.24,284.68C691.42,285.54 693.62,286.37 695.83,287.17C698.04,287.98 700.26,288.76 702.48,289.52C704.71,290.27 706.94,291.00 709.18,291.71C711.42,292.41 713.67,293.10 715.92,293.76C718.17,294.42 720.43,295.06 722.70,295.67C724.96,296.29 727.23,296.89 729.50,297.46C731.77,298.04 734.05,298.60 736.33,299.14C738.61,299.67 740.89,300.20 743.18,300.70C745.47,301.20 747.76,301.69 750.06,302.16C752.35,302.63 754.65,303.09 756.95,303.53C759.25,303.98 761.56,304.40 763.87,304.82C766.17,305.24 768.48,305.64 770.79,306.03C773.11,306.42 775.42,306.80 777.73,307.18C780.05,307.55 782.37,307.91 784.69,308.26C787.01,308.61 789.33,308.96 791.65,309.29C793.97,309.63 796.29,309.96 798.61,310.29C800.94,310.61 803.26,310.93 805.59,311.25C807.91,311.56 810.23,311.87 812.56,312.18C814.88,312.49 817.21,312.79 819.53,313.09C821.85,313.40 824.18,313.70 826.50,314.00" stroke="#0000ff" stroke-width="3.0" fill="none" stroke-dasharray="4.4 2.6 9.1 2.7" stroke-dashoffset="6.0"/>
<text x="652" y="414.3" text-anchor="middle" class="a">T (GeV)</text>
<text transform="translate(443.4,198.2) rotate(-90)" text-anchor="middle" class="a"><tspan class="i" font-size="13.6px">M</tspan><tspan class="i" font-size="9.9px" dy="2.6">s</tspan><tspan dy="-2.6"> (GeV)</tspan></text>
<path d="M639.3,110.0H682.6" stroke="#00ff00" stroke-width="3.0"/>
<path d="M639.3,133.6H682.6" stroke="#ff0000" stroke-width="0.5"/>
<path d="M639.3,157.7H682.6" stroke="#ff8000" stroke-width="3.0" stroke-dasharray="8.9 2.65"/>
<path d="M639.3,181.3H682.6" stroke="#0000ff" stroke-width="3.0" stroke-dasharray="4.4 2.6 9.1 2.7"/>
<text x="688.6" y="114.6" class="l">r=1 fm, <tspan class="i">ω</tspan>=0.1 GeV</text>
<text x="688.6" y="138.2" class="l">r=1 fm, <tspan class="i">ω</tspan>=0.01 GeV</text>
<text x="688.6" y="162.3" class="l">r=1.6 fm, <tspan class="i">ω</tspan>=0.1 GeV</text>
<text x="688.6" y="185.9" class="l">r=1.6 fm, <tspan class="i">ω</tspan>=0.01 GeV</text>
</g>
</svg>
</body></html>
